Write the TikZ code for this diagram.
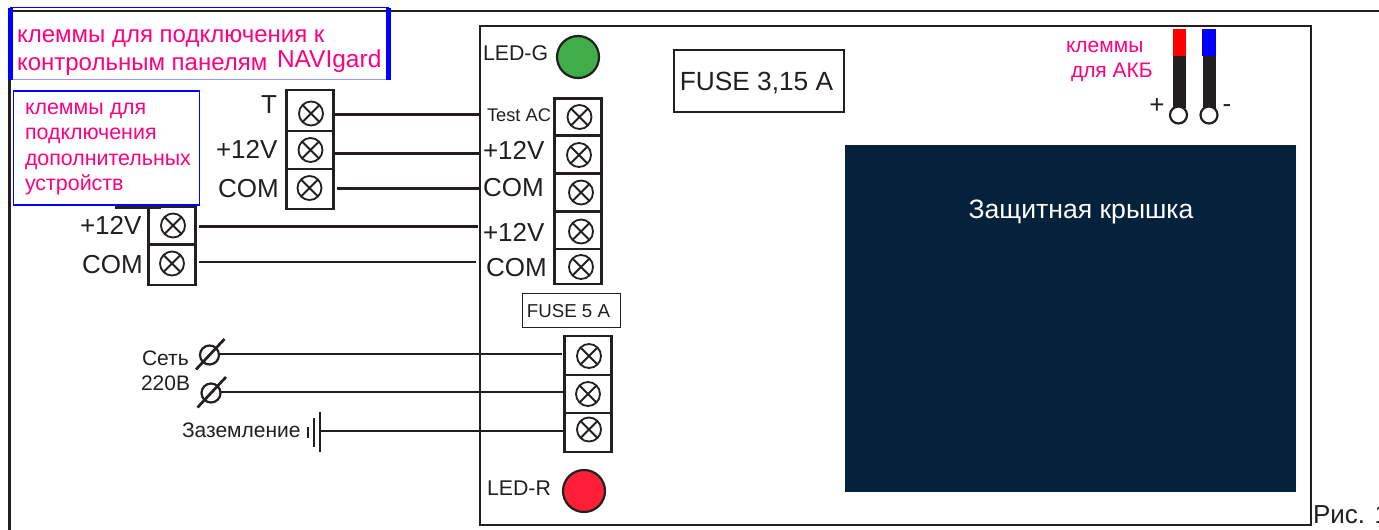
\documentclass[tikz,border=0pt]{standalone}
\usepackage{fontspec}
\setmainfont{Liberation Sans}
\definecolor{ink}{HTML}{231F20}
\definecolor{pinkt}{HTML}{FF0080}
\definecolor{navy}{HTML}{04223C}
\definecolor{ledg}{HTML}{3FAE49}
\definecolor{ledr}{HTML}{FF2038}
\newcommand{\fs}[1]{\fontsize{#1}{#1}\selectfont}
\tikzset{
  every node/.style={inner sep=0pt,outer sep=0pt},
  cell/.style={draw=ink,line width=2.2pt,minimum width=47pt},
  screw/.style={circle,draw=ink,line width=1.8pt,fill=white,minimum size=24pt,
    path picture={\draw[ink,line width=2pt]
      (path picture bounding box.north west)--(path picture bounding box.south east)
      (path picture bounding box.north east)--(path picture bounding box.south west);}},
  wire/.style={draw=ink,line width=2.7pt},
  thick line/.style={draw=ink,line width=2.4pt},
  lab/.style={text=ink,anchor=base west,font=\fs{26}},
  slab/.style={text=ink,anchor=base west,font=\fs{21}},
  plab/.style={text=pinkt,anchor=base west},
  led/.style={circle,draw=ink,line width=2.2pt,minimum size=42pt},
  mains/.style={circle,draw=ink,line width=2.2pt,minimum size=19pt},
}
\begin{document}
\begin{tikzpicture}[x=1pt,y=-1pt]
\clip (0,0) rectangle (1379,530);
\fill[white] (0,0) rectangle (1379,530);
% outer frame
\coordinate (ftl) at (9.5,11);
\coordinate (ftr) at (1379,11);
\coordinate (fbl) at (9.5,530);
\draw[thick line] (fbl) -- (ftl) -- (ftr);
% board
\node (board) [draw=ink,line width=2.4pt,minimum width=831pt,minimum height=499pt] at (895.5,275.5) {};
% cover
\node (cover) [fill=navy,minimum width=451pt,minimum height=347pt] at (1070.5,318.5) {};
\node (covertxt) [text=white,font=\fs{26.6}] at (1081,212) {Защитная крышка};
% top note box
\draw[blue!40,line width=1.5pt] (10,79.5) -- (389,79.5);
\draw[blue,line width=0.8pt] (10,7.7) -- (389,7.7);
\fill[blue] (7.5,7.5) rectangle (13,80);
\fill[blue] (386,7.5) rectangle (391,80);
\node (n1a) [plab,font=\fs{24}] at (17,42) {клеммы для подключения к};
\node (n1b) [plab,font=\fs{24}] at (17,70) {контрольным панелям};
\node (n1c) [plab,font=\fs{24.5}] at (277,67.5) {NAVIgard};
% block B
\draw[wire] (115,207.5) -- (161,207.5);
\node (b1) [cell,minimum height=38pt] at (172,225.5) {};
\node (b2) [cell,minimum height=41pt] at (172,264.5) {};
\node (sb1) [screw] at (173,225.5) {};
\node (sb2) [screw] at (172,263.5) {};
\node (lb1) [lab] at (80,234) {+12V};
\node (lb2) [lab] at (82,273) {COM};
% second note box
\node (n2) [draw=blue,line width=1.5pt,fill=white,minimum width=186pt,minimum height=114pt] at (106.5,148) {};
\node (n2a) [plab,font=\fs{21.4}] at (25,114) {клеммы для};
\node (n2b) [plab,font=\fs{21.4}] at (25,139) {подключения};
\node (n2c) [plab,font=\fs{21.4}] at (25,165) {дополнительных};
\node (n2d) [plab,font=\fs{21.4}] at (25,190) {устройств};
% block A
\node (a1) [cell,minimum height=41pt] at (310,110.5) {};
\node (a2) [cell,minimum height=38pt] at (310,150) {};
\node (a3) [cell,minimum height=40pt] at (310,189) {};
\node (sa1) [screw] at (311,113.5) {};
\node (sa2) [screw] at (310.5,150) {};
\node (sa3) [screw] at (309.5,188) {};
\node (la1) [lab] at (261,113) {T};
\node (la2) [lab] at (216,158) {+12V};
\node (la3) [lab] at (218,197) {COM};
% block C
\node (c1) [cell,minimum height=37pt] at (578,117) {};
\node (c2) [cell,minimum height=38pt] at (578,154.5) {};
\node (c3) [cell,minimum height=38pt] at (578,192.5) {};
\node (c4) [cell,minimum height=37pt] at (578,230.5) {};
\node (c5) [cell,minimum height=35pt] at (578,266.5) {};
\node (sc1) [screw] at (579.5,117) {};
\node (sc2) [screw] at (579,155) {};
\node (sc3) [screw] at (581,192.5) {};
\node (sc4) [screw] at (581,231.5) {};
\node (sc5) [screw] at (581,267) {};
\node (lc1) [text=ink,anchor=base west,font=\fs{18.3}] at (487,121) {Test AC};
\node (lc2) [lab] at (483,159) {+12V};
\node (lc3) [lab] at (483,196) {COM};
\node (lc4) [lab] at (483,241) {+12V};
\node (lc5) [lab] at (486,276) {COM};
% block D
\node (d1) [cell,minimum height=39pt] at (588,355.5) {};
\node (d2) [cell,minimum height=38pt] at (588,394) {};
\node (d3) [cell,minimum height=39pt] at (588,432.5) {};
\node (sd1) [screw] at (589,356) {};
\node (sd2) [screw] at (588,394) {};
\node (sd3) [screw] at (589,429.5) {};
% wires
\coordinate (e4) at (478,226.5);
\coordinate (e5) at (476,262);
\coordinate (s3) at (337,188.5);
\coordinate (s4) at (199,226.5);
\coordinate (s5) at (199,262);
\draw[wire] (a1.east |- 0,114.5) -- (board.west |- 0,114.5);
\draw[wire] (a2.east |- 0,153.5) -- (board.west |- 0,153.5);
\draw[wire] (s3) -- (board.west |- s3);
\draw[wire] (s4) -- (e4);
\draw[wire] (s5) -- (e5);
% mains
\node (m1) [mains] at (209.5,355) {};
\node (m2) [mains] at (211,393) {};
\coordinate (m1a) at (196,369.5); \coordinate (m1b) at (224.5,339);
\coordinate (m2a) at (197.5,407.5); \coordinate (m2b) at (226,377);
\draw[wire] (m1a) -- (m1b);
\draw[wire] (m2a) -- (m2b);
\coordinate (d1w) at (562,354);
\draw[wire] (m1.east |- d1w) -- (d1w);
\draw[wire] (m2.east |- 0,392) -- (d2.west |- 0,392);
\node (lm1) [slab] at (142,365) {Сеть};
\node (lm2) [slab] at (141,390) {220В};
% ground
\coordinate (g1a) at (320,412); \coordinate (g1b) at (320,452);
\coordinate (g2a) at (314,418); \coordinate (g2b) at (314,447);
\coordinate (g3a) at (308,427); \coordinate (g3b) at (308,438);
\draw[wire] (g1a) -- (g1b);
\draw[wire] (g2a) -- (g2b);
\draw[wire] (g3a) -- (g3b);
\draw[wire] (g1a |- 0,431) -- (d3.west |- 0,431);
\node (lg) [slab] at (182,437) {Заземление};
% LEDs
\node (ledg) [led,fill=ledg] at (578,57) {};
\node (ledr) [led,fill=ledr] at (584,491) {};
\node (lg1) [text=ink,anchor=base west,font=\fs{21.3}] at (483,60) {LED-G};
\node (lr1) [text=ink,anchor=base west,font=\fs{21.3}] at (487,495) {LED-R};
% fuses
\node (f1) [draw=ink,line width=2.2pt,minimum width=170pt,minimum height=62pt] at (759,81) {};
\node (f1t) [text=ink,font=\fs{26.3}] at (756.5,83) {FUSE 3,15 A};
\node (f2) [draw=ink,line width=1pt,minimum width=98pt,minimum height=34pt] at (571,310) {};
\node (f2t) [text=ink,font=\fs{18.7}] at (568.5,311) {FUSE 5 A};
% battery
\fill[red] (1173,29) rectangle (1186,56);
\fill[blue] (1202,29) rectangle (1216,56);
\fill[ink] (1172.5,56) rectangle (1186,108);
\fill[ink] (1202.5,56) rectangle (1216,108);
\node (bat1) [circle,draw=ink,fill=white,line width=2.2pt,minimum size=17pt] at (1178.5,115) {};
\node (bat2) [circle,draw=ink,fill=white,line width=2.2pt,minimum size=17pt] at (1209,115) {};
\node (bp) [text=ink,font=\fs{26}] at (1157,105.5) {+};
\node (bm) [text=ink,font=\fs{26}] at (1227,109) {-};
\node (ba1) [plab,font=\fs{21}] at (1066,52) {клеммы};
\node (ba2) [plab,font=\fs{21}] at (1071,77) {для АКБ};
% caption
\node (cap) [text=ink,anchor=base west,font=\fs{26}] at (1313,523) {Рис. 1};
\end{tikzpicture}
\end{document}
